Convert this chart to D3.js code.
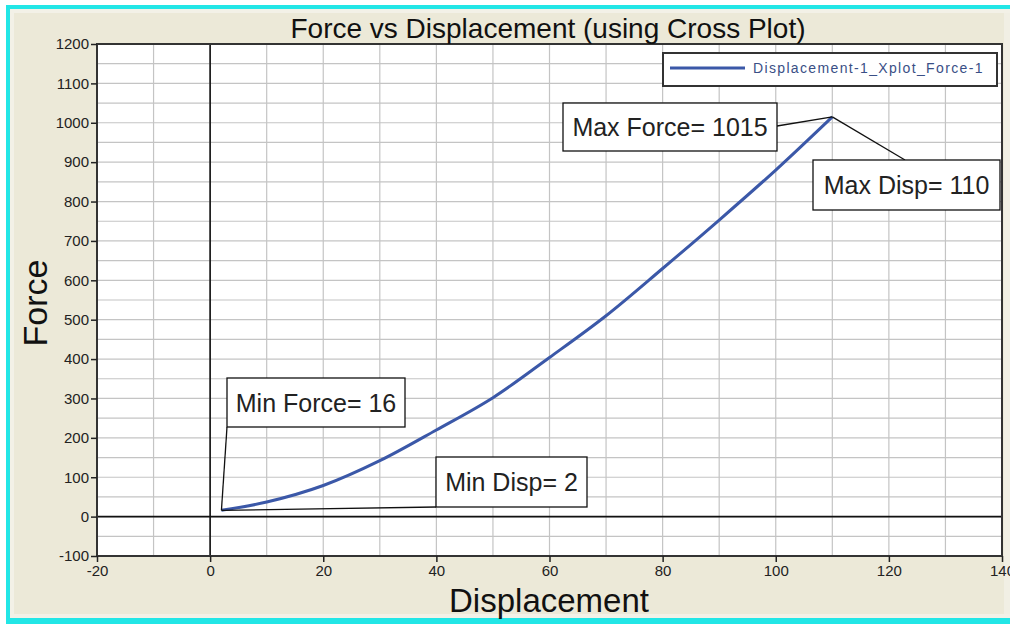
<!DOCTYPE html>
<html>
<head>
<meta charset="utf-8">
<script src="https://cdn.jsdelivr.net/npm/d3@7"></script>
<style>
  html, body { margin: 0; padding: 0; background: #ece9d8; overflow: hidden; }
  svg { display: block; }
</style>
</head>
<body>
<svg id="chart" width="1010" height="624"></svg>
<script>
// ---------- data ----------
const displacement = [2, 10, 20, 30, 40, 50, 60, 70, 80, 90, 100, 110];
const force        = [16, 37, 79, 142, 220, 302, 404, 510, 630, 753, 880, 1015];
const xTicks = [-20, 0, 20, 40, 60, 80, 100, 120, 140];
const yTicks = [-100, 0, 100, 200, 300, 400, 500, 600, 700, 800, 900, 1000, 1100, 1200];
const seriesName = "Displacement-1_Xplot_Force-1";
const titleText = "Force vs Displacement (using Cross Plot)";
const xLabel = "Displacement";
const yLabel = "Force";
// annotation labels and the data point each refers to
const noteLabels = ["Max Force= 1015", "Max Disp= 110", "Min Force= 16", "Min Disp= 2"];
const noteX = [110, 110, 2, 2];
const noteY = [1015, 1015, 16, 16];

// ---------- layout ----------
const W = 1010, H = 624;
const svg = d3.select("#chart");
const x = d3.scaleLinear().domain([-20, 140]).range([97, 1002]);
const y = d3.scaleLinear().domain([-100, 1200]).range([556, 44]);
const font = "'Liberation Sans', Arial, sans-serif";

// frame / background (right side is cut off in the reference)
svg.append("rect").attr("x", 0).attr("y", 0).attr("width", W).attr("height", H).attr("fill", "#ffffff");
svg.append("rect").attr("x", 6).attr("y", 5).attr("width", W).attr("height", H - 5).attr("fill", "#22e6e6");
svg.append("rect").attr("x", 10).attr("y", 9).attr("width", W).attr("height", 609).attr("fill", "#f3f1e7");
svg.append("rect").attr("x", 14).attr("y", 13).attr("width", W - 14).attr("height", 601).attr("fill", "#ece9d8");
svg.append("rect").attr("x", 1004).attr("y", 13).attr("width", 6).attr("height", 601).attr("fill", "#f1efe4");

// plot area
svg.append("rect").attr("x", x(-20)).attr("y", y(1200))
  .attr("width", x(140) - x(-20)).attr("height", y(-100) - y(1200)).attr("fill", "#ffffff");

// grid
const gx = d3.range(-10, 140, 10);
const gy = d3.range(-50, 1200, 50);
svg.append("g").selectAll("line").data(gx).join("line")
  .attr("x1", d => x(d)).attr("x2", d => x(d)).attr("y1", y(1200)).attr("y2", y(-100))
  .attr("stroke", "#c4c4c4").attr("stroke-width", 1.2);
svg.append("g").selectAll("line").data(gy).join("line")
  .attr("x1", x(-20)).attr("x2", x(140)).attr("y1", d => y(d)).attr("y2", d => y(d))
  .attr("stroke", "#c4c4c4").attr("stroke-width", 1.2);

// zero lines
svg.append("line").attr("x1", x(0)).attr("x2", x(0)).attr("y1", y(1200)).attr("y2", y(-100))
  .attr("stroke", "#111").attr("stroke-width", 1.6);
svg.append("line").attr("x1", x(-20)).attr("x2", x(140)).attr("y1", y(0)).attr("y2", y(0))
  .attr("stroke", "#111").attr("stroke-width", 1.6);

// plot border
svg.append("rect").attr("x", x(-20)).attr("y", y(1200))
  .attr("width", x(140) - x(-20)).attr("height", y(-100) - y(1200))
  .attr("fill", "none").attr("stroke", "#333").attr("stroke-width", 2);

// axes
const xAxis = d3.axisBottom(x).tickValues(xTicks).tickSize(6).tickPadding(3).tickFormat(d => String(d));
const yAxis = d3.axisLeft(y).tickValues(yTicks).tickSize(6).tickPadding(2).tickFormat(d => String(d));
const gxa = svg.append("g").attr("transform", `translate(0,${y(-100)})`).call(xAxis);
const gya = svg.append("g").attr("transform", `translate(${x(-20)},0)`).call(yAxis);
[gxa, gya].forEach(g => {
  g.select(".domain").remove();
  g.selectAll(".tick line").attr("stroke", "#222").attr("stroke-width", 1.5);
  g.selectAll(".tick text").attr("fill", "#222").attr("font-family", font).attr("font-size", 15);
});

// series line
const line = d3.line().x((d, i) => x(displacement[i])).y((d, i) => y(force[i])).curve(d3.curveCatmullRom);
svg.append("path").datum(force).attr("d", line)
  .attr("fill", "none").attr("stroke", "#3b58a8").attr("stroke-width", 3);

// title & axis labels
svg.append("text").attr("x", 548).attr("y", 38).attr("text-anchor", "middle")
  .attr("font-family", font).attr("font-size", 28).attr("fill", "#111").text(titleText);
svg.append("text").attr("x", 549).attr("y", 612).attr("text-anchor", "middle")
  .attr("font-family", font).attr("font-size", 33).attr("fill", "#111").text(xLabel);
svg.append("text").attr("transform", "translate(47,303) rotate(-90)").attr("text-anchor", "middle")
  .attr("font-family", font).attr("font-size", 34).attr("fill", "#111").text(yLabel);

// legend
const lg = svg.append("g");
lg.append("rect").attr("x", 663).attr("y", 53).attr("width", 334).attr("height", 33)
  .attr("fill", "#ffffff").attr("stroke", "#333").attr("stroke-width", 2);
lg.append("line").attr("x1", 670).attr("x2", 745).attr("y1", 68).attr("y2", 68)
  .attr("stroke", "#3b58a8").attr("stroke-width", 3);
lg.append("text").attr("x", 753).attr("y", 73).attr("font-family", font).attr("font-size", 14)
  .attr("letter-spacing", 1.35).attr("fill", "#3a4f86").text(seriesName);

// annotations: box position (pixel layout) and connector anchor on the box
const boxes = [
  { x: 563, y: 103, w: 214, h: 48, ax: 777, ay: 126 },
  { x: 813, y: 160, w: 187, h: 50, ax: 905, ay: 160 },
  { x: 227, y: 378, w: 178, h: 49, ax: 227, ay: 427 },
  { x: 436, y: 457, w: 151, h: 50, ax: 436, ay: 507 }
];
const ng = svg.append("g");
noteLabels.forEach((lab, i) => {
  const b = boxes[i];
  ng.append("line").attr("x1", b.ax).attr("y1", b.ay).attr("x2", x(noteX[i])).attr("y2", y(noteY[i]))
    .attr("stroke", "#111").attr("stroke-width", 1.3);
  ng.append("rect").attr("x", b.x).attr("y", b.y).attr("width", b.w).attr("height", b.h)
    .attr("fill", "#ffffff").attr("stroke", "#111").attr("stroke-width", 1.3);
  ng.append("text").attr("x", b.x + b.w / 2).attr("y", b.y + b.h / 2 + 9).attr("text-anchor", "middle")
    .attr("font-family", font).attr("font-size", 25).attr("fill", "#222").text(lab);
});
</script>
</body>
</html>
